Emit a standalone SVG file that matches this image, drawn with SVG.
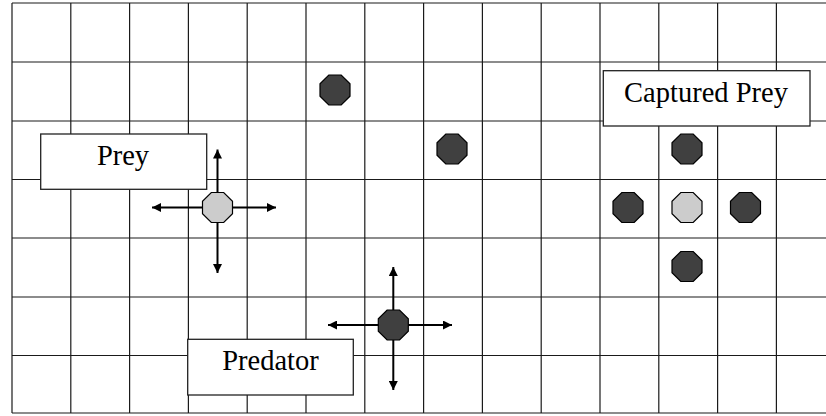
<svg xmlns="http://www.w3.org/2000/svg" width="826" height="416" viewBox="0 0 826 416">
  <defs>
    <style>
      .grid line { stroke: #1a1a1a; stroke-width: 1.2; }
      .border { stroke: #555; stroke-width: 2; }
      .move { stroke: #000; stroke-width: 2; fill: none; marker-end: url(#head); }
      .pred { fill: #404040; stroke: #000; stroke-width: 1.2; }
      .prey { fill: #cccccc; stroke: #000; stroke-width: 1.2; }
      .label rect { fill: #fff; stroke: #222; stroke-width: 1.3; }
      .label text { font-family: "Liberation Serif", "Times New Roman", serif; font-size: 28.5px; fill: #000; text-anchor: middle; }
    </style>
    <marker id="head" viewBox="0 0 10 10" refX="10" refY="5" markerWidth="9" markerHeight="9" markerUnits="userSpaceOnUse" orient="auto">
      <path d="M0,0 L10,5 L0,10 z" fill="#000"/>
    </marker>
    <polygon id="oct" points="-6.2,-15 6.2,-15 15,-6.2 15,6.2 6.2,15 -6.2,15 -15,6.2 -15,-6.2"/>
  </defs>

  <rect width="826" height="416" fill="#fff"/>

  <!-- board grid -->
  <g class="grid">
    <line x1="12" y1="3" x2="826" y2="3"/>
    <line x1="12" y1="62" x2="826" y2="62"/>
    <line x1="12" y1="121" x2="826" y2="121"/>
    <line x1="12" y1="179.5" x2="826" y2="179.5"/>
    <line x1="12" y1="238" x2="826" y2="238"/>
    <line x1="12" y1="297" x2="826" y2="297"/>
    <line x1="12" y1="355.5" x2="826" y2="355.5"/>
    <line class="border" x1="12" y1="413" x2="826" y2="413"/>
    <line class="border" x1="12" y1="3" x2="12" y2="413"/>
    <line x1="70.8" y1="3" x2="70.8" y2="413"/>
    <line x1="129.6" y1="3" x2="129.6" y2="413"/>
    <line x1="188.4" y1="3" x2="188.4" y2="413"/>
    <line x1="247.2" y1="3" x2="247.2" y2="413"/>
    <line x1="306" y1="3" x2="306" y2="413"/>
    <line x1="364.8" y1="3" x2="364.8" y2="413"/>
    <line x1="423.6" y1="3" x2="423.6" y2="413"/>
    <line x1="482.4" y1="3" x2="482.4" y2="413"/>
    <line x1="541.2" y1="3" x2="541.2" y2="413"/>
    <line x1="600" y1="3" x2="600" y2="413"/>
    <line x1="658.8" y1="3" x2="658.8" y2="413"/>
    <line x1="717.6" y1="3" x2="717.6" y2="413"/>
    <line x1="776.4" y1="3" x2="776.4" y2="413"/>
  </g>

  <!-- movement arrows -->
  <g id="connectors">
    <line class="move" x1="217.5" y1="207.5" x2="217.5" y2="149.5"/>
    <line class="move" x1="217.5" y1="207.5" x2="217.5" y2="273"/>
    <line class="move" x1="217.5" y1="207.5" x2="152" y2="207.5"/>
    <line class="move" x1="217.5" y1="207.5" x2="276" y2="207.5"/>
    <line class="move" x1="393.3" y1="325" x2="393.3" y2="267"/>
    <line class="move" x1="393.3" y1="325" x2="393.3" y2="390"/>
    <line class="move" x1="393.3" y1="325" x2="328" y2="325"/>
    <line class="move" x1="393.3" y1="325" x2="452" y2="325"/>
  </g>

  <!-- agents -->
  <g id="predator-a"><use href="#oct" class="pred" x="335" y="90"/></g>
  <g id="predator-b"><use href="#oct" class="pred" x="452" y="149"/></g>
  <g id="prey-moving"><use href="#oct" class="prey" x="217.5" y="207.5"/></g>
  <g id="predator-moving"><use href="#oct" class="pred" x="393.3" y="325"/></g>
  <g id="captor-north"><use href="#oct" class="pred" x="687" y="149"/></g>
  <g id="captor-west"><use href="#oct" class="pred" x="628" y="207.5"/></g>
  <g id="prey-captured"><use href="#oct" class="prey" x="687" y="207.5"/></g>
  <g id="captor-east"><use href="#oct" class="pred" x="745.5" y="207.5"/></g>
  <g id="captor-south"><use href="#oct" class="pred" x="687" y="266.5"/></g>

  <!-- labels -->
  <g id="label-prey" class="label">
    <rect x="40.7" y="134" width="166" height="55.3"/>
    <text x="123" y="165">Prey</text>
  </g>
  <g id="label-captured" class="label">
    <rect x="603.3" y="70.7" width="206.7" height="55.3"/>
    <text x="706" y="101.5">Captured Prey</text>
  </g>
  <g id="label-predator" class="label">
    <rect x="187.7" y="339.3" width="165.6" height="55.7"/>
    <text x="270.5" y="370">Predator</text>
  </g>
</svg>
